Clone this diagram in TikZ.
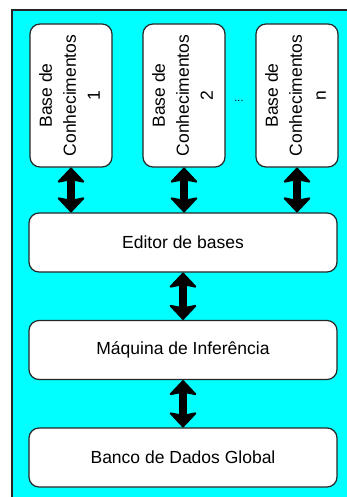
\documentclass[tikz,border=0pt]{standalone}
\usepackage{fontspec}
\setmainfont{Liberation Sans}
\usetikzlibrary{arrows.meta}

\definecolor{panelcyan}{RGB}{0,255,255}
\tikzset{
    box/.style={draw=black!85, line width=1.2pt, fill=white, rounded corners=10pt,
        inner sep=0pt, font=\fontsize{17.5}{24}\selectfont},
    kbase/.style={box, minimum width=82pt, minimum height=143pt},
    wide/.style={box, minimum width=308pt, minimum height=59pt},
    link/.style={line width=8pt,
        {Stealth[length=16pt, width=30pt, inset=3pt, round, line width=2pt]}-{Stealth[length=16pt, width=30pt, inset=3pt, round, line width=2pt]}}
}

\begin{document}
\begin{tikzpicture}[x=1pt, y=-1pt]
    \useasboundingbox (0,0) rectangle (347,497);
%background panel
    \draw[fill=panelcyan, draw=black!85, line width=1.2pt] (12,10) rectangle (360,510);

%knowledge bases
    \foreach \name/\x/\num in {base1/71/1, base2/184/2, basen/297/n}
    \node[kbase] (\name) at (\x,95.5)
        {\rotatebox{90}{\begin{tabular}{@{}c@{}}Base de\\Conhecimentos\\\num\end{tabular}}};
    \node[font=\fontsize{11}{11}\selectfont] (dots) at (239,101) {...};

%lower blocks
    \node[wide] (editor) at (183,242.5) {Editor de bases};
    \node[wide] (maquina) at (183,350) {Máquina de Inferência};
    \node[wide] (banco) at (183,457.5) {Banco de Dados Global};

%arrows
    \foreach \name in {base1,base2,basen}
    \draw[link] (\name.south) -- (\name.south |- editor.north);
    \draw[link] (editor.south) -- (maquina.north);
    \draw[link] (maquina.south) -- (banco.north);
\end{tikzpicture}
\end{document}
